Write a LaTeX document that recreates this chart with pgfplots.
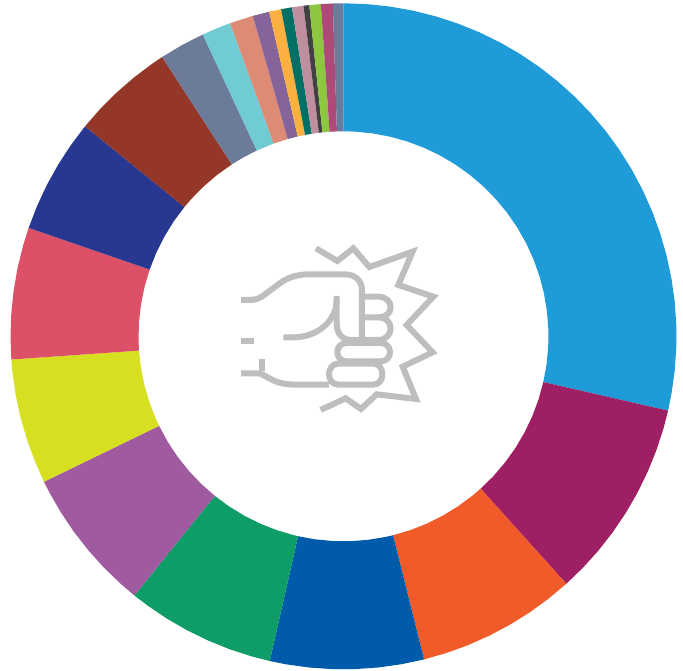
\documentclass[border=0pt]{standalone}
\usepackage{pgfplots}
\pgfplotsset{compat=1.18}
\usepgfplotslibrary{polar}
\definecolor{c1}{HTML}{1F9BD7}
\definecolor{c2}{HTML}{9E1F63}
\definecolor{c3}{HTML}{F15A29}
\definecolor{c4}{HTML}{005BAA}
\definecolor{c5}{HTML}{0F9D67}
\definecolor{c6}{HTML}{A05AA0}
\definecolor{c7}{HTML}{D7DF21}
\definecolor{c8}{HTML}{DC5068}
\definecolor{c9}{HTML}{283890}
\definecolor{c10}{HTML}{943728}
\definecolor{c11}{HTML}{6D7B9A}
\definecolor{c12}{HTML}{70CBD3}
\definecolor{c13}{HTML}{DD8B75}
\definecolor{c14}{HTML}{846499}
\definecolor{c15}{HTML}{FBB040}
\definecolor{c16}{HTML}{006F66}
\definecolor{c17}{HTML}{C08F9F}
\definecolor{c18}{HTML}{414042}
\definecolor{c19}{HTML}{8DC63F}
\definecolor{c20}{HTML}{AE4A78}
\definecolor{c21}{HTML}{6A7B9C}
\definecolor{icon}{HTML}{BCBEC0}
\begin{document}
\begin{tikzpicture}[x=1pt,y=1pt]
\useasboundingbox (0,0) rectangle (683,670);
\begin{polaraxis}[
  at={(343.5pt,333.7pt)}, anchor=center,
  scale only axis, width=666pt, height=666pt,
  hide axis, clip=false,
  xmin=0, xmax=360, ymin=0, ymax=333,
  x filter/.code={\pgfmathparse{90-\pgfmathresult}},
  every axis plot/.append style={draw=none},
]
\addplot[fill=c1] coordinates {(0,333)(4,333)(8,333)(12,333)(16,333)(20,333)(24,333)(28,333)(32,333)(36,333)(40,333)(44,333)(48,333)(52,333)(56,333)(60,333)(64,333)(68,333)(72,333)(76,333)(80,333)(84,333)(88,333)(92,333)(96,333)(100,333)(102.9,333)
 (102.9,205)(98,205)(93,205)(88,205)(83,205)(78,205)(73,205)(68,205)(63,205)(58,205)(53,205)(48,205)(43,205)(38,205)(33,205)(28,205)(23,205)(18,205)(13,205)(8,205)(3,205)(0,205)};
\addplot[fill=c2] coordinates {(102.9,333)(106,333)(110,333)(114,333)(118,333)(122,333)(126,333)(130,333)(134,333)(138,333)
 (138,205)(133,205)(128,205)(123,205)(118,205)(113,205)(108,205)(102.9,205)};
\addplot[fill=c3] coordinates {(138,333)(142,333)(146,333)(150,333)(154,333)(158,333)(162,333)(166,333)
 (166,205)(161,205)(156,205)(151,205)(146,205)(141,205)(138,205)};
\addplot[fill=c4] coordinates {(166,333)(170,333)(174,333)(178,333)(182,333)(186,333)(190,333)(192.8,333)
 (192.8,205)(188,205)(183,205)(178,205)(173,205)(168,205)(166,205)};
\addplot[fill=c5] coordinates {(192.8,333)(196,333)(200,333)(204,333)(208,333)(212,333)(216,333)(218.9,333)
 (218.9,205)(214,205)(209,205)(204,205)(199,205)(194,205)(192.8,205)};
\addplot[fill=c6] coordinates {(218.9,333)(222,333)(226,333)(230,333)(234,333)(238,333)(242,333)(244.1,333)
 (244.1,205)(239,205)(234,205)(229,205)(224,205)(218.9,205)};
\addplot[fill=c7] coordinates {(244.1,333)(248,333)(252,333)(256,333)(260,333)(264,333)(266,333)
 (266,205)(261,205)(256,205)(251,205)(246,205)(244.1,205)};
\addplot[fill=c8] coordinates {(266,333)(270,333)(274,333)(278,333)(282,333)(286,333)(289,333)
 (289,205)(284,205)(279,205)(274,205)(269,205)(266,205)};
\addplot[fill=c9] coordinates {(289,333)(293,333)(297,333)(301,333)(305,333)(309.1,333)
 (309.1,205)(304,205)(299,205)(294,205)(289,205)};
\addplot[fill=c10] coordinates {(309.1,333)(313,333)(317,333)(321,333)(325,333)(327,333)
 (327,205)(322,205)(317,205)(312,205)(309.1,205)};
\addplot[fill=c11] coordinates {(327,333)(331,333)(335,333)(335,205)(331,205)(327,205)};
\addplot[fill=c12] coordinates {(335,333)(338,333)(340.1,333)(340.1,205)(335,205)};
\addplot[fill=c13] coordinates {(340.1,333)(344.2,333)(344.2,205)(340.1,205)};
\addplot[fill=c14] coordinates {(344.2,333)(347.1,333)(347.1,205)(344.2,205)};
\addplot[fill=c15] coordinates {(347.1,333)(349.2,333)(349.2,205)(347.1,205)};
\addplot[fill=c16] coordinates {(349.2,333)(351.1,333)(351.1,205)(349.2,205)};
\addplot[fill=c17] coordinates {(351.1,333)(353.1,333)(353.1,205)(351.1,205)};
\addplot[fill=c18] coordinates {(353.1,333)(354.1,333)(354.1,205)(353.1,205)};
\addplot[fill=c19] coordinates {(354.1,333)(356.1,333)(356.1,205)(354.1,205)};
\addplot[fill=c20] coordinates {(356.1,333)(358.16,333)(358.16,205)(356.1,205)};
\addplot[fill=c21] coordinates {(358.16,333)(360,333)(360,205)(358.16,205)};
\end{polaraxis}
\begin{scope}[shift={(230pt,435pt)},x=0.3333pt,y=-0.3333pt,line width=6pt,draw=icon,line join=miter]
\draw (258,40) -- (322,78) -- (370,40) -- (418,96) -- (548,50) -- (505,150) -- (610,185) -- (530,270) -- (608,352) -- (518,395) -- (558,492) -- (440,478) -- (393,522) -- (347,490) -- (272,525);
\draw (33,195) -- (60,195) .. controls (80,195) and (92,188) .. (105,178) -- (145,148) .. controls (175,125) and (205,118) .. (240,118) -- (345,118) .. controls (378,118) and (396,140) .. (396,165) -- (396,310);
\draw (396,185) -- (445,185) .. controls (468,185) and (482,200) .. (482,216) .. controls (482,234) and (468,247) .. (445,247) -- (396,247);
\draw (445,247) .. controls (468,247) and (482,262) .. (482,280) .. controls (482,298) and (468,315) .. (445,315) -- (365,315) .. controls (338,315) and (320,298) .. (320,265) -- (320,183);
\draw (160,307) -- (190,307) .. controls (265,307) and (320,255) .. (320,195);
\draw (350,324) -- (452,324) .. controls (470,324) and (480,338) .. (480,351) .. controls (480,366) and (470,379) .. (452,379) -- (350,379) .. controls (332,379) and (322,366) .. (322,351) .. controls (322,338) and (332,324) .. (350,324) -- cycle;
\draw (325,386) -- (430,386) .. controls (448,386) and (457,402) .. (457,417) .. controls (457,434) and (448,449) .. (430,449) -- (325,449) .. controls (307,449) and (297,434) .. (297,417) .. controls (297,402) and (307,386) .. (325,386) -- cycle;
\draw (33,317) -- (72,317);
\draw (33,415) -- (85,415) .. controls (105,415) and (125,449) .. (195,449) -- (297,449);
\draw (95,372) -- (95,408);
\end{scope}
\end{tikzpicture}
\end{document}
